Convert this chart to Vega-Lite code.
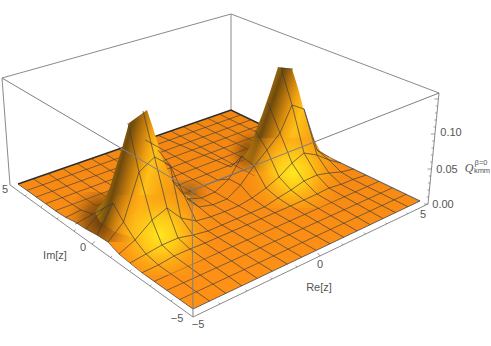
{"$schema":"https://vega.github.io/schema/vega-lite/v6.json","width":491,"height":346,"padding":0,"autosize":"none","background":"white","config":{"view":{"stroke":null}},
"datasets":{
"box":[{"id":"a","u":10,"v":185},{"id":"a","u":2,"v":78},{"id":"a","u":231,"v":14},{"id":"a","u":439,"v":93},{"id":"a","u":428,"v":204},{"id":"b","u":231,"v":14},{"id":"b","u":231,"v":110},{"id":"c","u":10,"v":185},{"id":"c","u":193,"v":317},{"id":"c","u":428,"v":204}],
"surface":[{"u":193,"v":309},{"u":420,"v":201},{"u":231,"v":110},{"u":18,"v":184},{"u":45.6,"v":203.7},{"u":55.3,"v":210.7},{"u":65,"v":217},{"u":75,"v":222},{"u":86,"v":229},{"u":97,"v":235},{"u":108,"v":242},{"u":119,"v":254},{"u":130,"v":263},{"u":142,"v":272.7}],
"edge":[{"id":"e1","u":18,"v":184},{"id":"e1","u":231,"v":110},{"id":"e1","u":320,"v":153}],
"edgeright":[{"u":320,"v":153},{"u":420,"v":201}],
"edgefront":[{"u":420,"v":201},{"u":193,"v":309},{"u":142,"v":272.7},{"u":130,"v":263},{"u":119,"v":254},{"u":108,"v":242},{"u":97,"v":235},{"u":86,"v":229},{"u":75,"v":222},{"u":65,"v":217},{"u":55.3,"v":210.7},{"u":45.6,"v":203.7},{"u":18,"v":184}],
"flat":[{"id":"i2","u":48.1,"v":173.5},{"id":"i2","u":96.1,"v":205.9},{"id":"i3","u":62.7,"v":168.5},{"id":"i3","u":111.2,"v":200.3},{"id":"i4","u":77.1,"v":163.5},{"id":"i4","u":136.5,"v":201.4},{"id":"i5","u":91.2,"v":158.6},{"id":"i5","u":151,"v":195.7},{"id":"i6","u":105,"v":153.8},{"id":"i6","u":176,"v":197},{"id":"i7","u":118.6,"v":149.1},{"id":"i7","u":301.9,"v":257.2},{"id":"i8","u":132,"v":144.4},{"id":"i8","u":316.2,"v":250.4},{"id":"i11","u":170.7,"v":130.9},{"id":"i11","u":255,"v":176},{"id":"i12","u":183.2,"v":126.6},{"id":"i12","u":268,"v":171},{"id":"i13","u":195.4,"v":122.4},{"id":"i13","u":280.7,"v":166},{"id":"i14","u":207.5,"v":118.2},{"id":"i14","u":293,"v":161},{"id":"i15","u":219.3,"v":114.1},{"id":"i15","u":305,"v":156},
{"id":"j1","u":179.7,"v":299.5},{"id":"j1","u":406,"v":194.3},{"id":"j2","u":166.8,"v":290.3},{"id":"j2","u":392.4,"v":187.8},{"id":"j3","u":154.3,"v":281.3},{"id":"j3","u":379.1,"v":181.3},{"id":"j9","u":305.5,"v":145.9},{"id":"j9","u":132,"v":214},{"id":"j10","u":294.2,"v":140.4},{"id":"j10","u":121.6,"v":207},{"id":"j11","u":283.1,"v":135.1},{"id":"j11","u":96,"v":206},{"id":"j12","u":272.3,"v":129.9},{"id":"j12","u":55.3,"v":210.7},{"id":"j13","u":261.6,"v":124.7},{"id":"j13","u":45.6,"v":203.7},{"id":"j14","u":251.2,"v":119.7},{"id":"j14","u":36.2,"v":197},{"id":"j15","u":241,"v":114.8},{"id":"j15","u":27,"v":190.4}],
"shadeA":[{"u":62,"v":192},{"u":132,"v":192},{"u":132,"v":242},{"u":108,"v":242},{"u":97,"v":235},{"u":86,"v":229},{"u":75,"v":222},{"u":65,"v":217},{"u":62,"v":215}],
"shadeB":[{"u":172,"v":180},{"u":216,"v":180},{"u":216,"v":206},{"u":172,"v":206}],
"shadeC":[{"u":224,"v":130},{"u":272,"v":130},{"u":272,"v":172},{"u":224,"v":172}],
"body1":[{"u":129,"v":123},{"u":147,"v":110},{"u":153,"v":128},{"u":162,"v":157},{"u":172,"v":180},{"u":180,"v":192},{"u":190,"v":197},{"u":185,"v":215},{"u":160,"v":232},{"u":135,"v":238},{"u":115,"v":232},{"u":100,"v":222},{"u":95,"v":212},{"u":103,"v":202},{"u":110,"v":187},{"u":115,"v":170},{"u":122,"v":148}],
"body2":[{"u":278,"v":67},{"u":292,"v":69},{"u":298,"v":88},{"u":303,"v":107},{"u":313,"v":137},{"u":320,"v":151},{"u":333,"v":160},{"u":320,"v":172},{"u":295,"v":178},{"u":270,"v":175},{"u":252,"v":165},{"u":243,"v":158},{"u":250,"v":147},{"u":256,"v":130},{"u":262,"v":115},{"u":270,"v":92}],
"glow1":[{"u":100,"v":195},{"u":220,"v":195},{"u":220,"v":275},{"u":145,"v":275},{"u":142,"v":272.7},{"u":130,"v":263},{"u":119,"v":254},{"u":108,"v":242},{"u":100,"v":237}],
"glow2":[{"u":238,"v":138},{"u":311,"v":138},{"u":320,"v":151},{"u":333,"v":159},{"u":348,"v":167},{"u":348,"v":208},{"u":238,"v":208}],
"trace":[
{"id":"i1","u":33.2,"v":178.7},{"id":"i1","u":81,"v":210},{"id":"i1","u":93,"v":214},{"id":"i1","u":104,"v":208},{"id":"i1","u":113,"v":203},{"id":"i1","u":123.5,"v":222},{"id":"i1","u":135,"v":240},{"id":"i1","u":146,"v":254},{"id":"i1","u":158.4,"v":265},{"id":"i1","u":209.6,"v":301.1},
{"id":"i2f","u":128,"v":123},{"id":"i2f","u":139,"v":172},{"id":"i2f","u":152,"v":220},{"id":"i2f","u":162,"v":245},{"id":"i2f","u":174,"v":256},{"id":"i2f","u":225.9,"v":293.4},
{"id":"i3f","u":143,"v":111},{"id":"i3f","u":154.5,"v":157},{"id":"i3f","u":167,"v":208},{"id":"i3f","u":178,"v":238},{"id":"i3f","u":190,"v":249},{"id":"i3f","u":241.8,"v":285.8},
{"id":"i4f","u":158,"v":150},{"id":"i4f","u":170,"v":165},{"id":"i4f","u":181,"v":218},{"id":"i4f","u":193,"v":235},{"id":"i4f","u":205,"v":243},{"id":"i4f","u":257.3,"v":278.4},
{"id":"i5f","u":172,"v":180},{"id":"i5f","u":184,"v":195},{"id":"i5f","u":196,"v":221},{"id":"i5f","u":208,"v":231},{"id":"i5f","u":220,"v":238.7},{"id":"i5f","u":272.5,"v":271.2},
{"id":"i6f","u":187,"v":199},{"id":"i6f","u":199,"v":207},{"id":"i6f","u":210,"v":216},{"id":"i6f","u":222,"v":225},{"id":"i6f","u":287.4,"v":264.1},
{"id":"i9","u":145.1,"v":139.8},{"id":"i9","u":217.5,"v":180},{"id":"i9","u":229,"v":179},{"id":"i9","u":240.5,"v":185},{"id":"i9","u":252,"v":198},{"id":"i9","u":264.5,"v":206.9},{"id":"i9","u":330.1,"v":243.8},
{"id":"i10","u":158,"v":135.3},{"id":"i10","u":231,"v":167},{"id":"i10","u":242,"v":156},{"id":"i10","u":254,"v":166},{"id":"i10","u":266,"v":188},{"id":"i10","u":278,"v":198},{"id":"i10","u":290.5,"v":206},{"id":"i10","u":343.7,"v":237.3},
{"id":"i11f","u":255,"v":130},{"id":"i11f","u":267,"v":150},{"id":"i11f","u":279,"v":177},{"id":"i11f","u":291,"v":190},{"id":"i11f","u":304,"v":200},{"id":"i11f","u":357.1,"v":230.9},
{"id":"i12f","u":268,"v":103},{"id":"i12f","u":280,"v":133},{"id":"i12f","u":292,"v":163},{"id":"i12f","u":304,"v":181},{"id":"i12f","u":317,"v":194},{"id":"i12f","u":370.2,"v":224.7},
{"id":"i13f","u":281,"v":68},{"id":"i13f","u":292,"v":105},{"id":"i13f","u":304,"v":153},{"id":"i13f","u":317,"v":175},{"id":"i13f","u":329,"v":188},{"id":"i13f","u":383,"v":218.6},
{"id":"i14f","u":304,"v":109},{"id":"i14f","u":317,"v":155},{"id":"i14f","u":329,"v":173},{"id":"i14f","u":342,"v":185},{"id":"i14f","u":395.6,"v":212.6},
{"id":"i15f","u":317,"v":150},{"id":"i15f","u":329,"v":160},{"id":"i15f","u":341,"v":172},{"id":"i15f","u":354,"v":180},{"id":"i15f","u":407.9,"v":206.7},
{"id":"j4","u":366.2,"v":175.1},{"id":"j4","u":354,"v":179},{"id":"j4","u":342,"v":184},{"id":"j4","u":329,"v":188},{"id":"j4","u":317,"v":194},{"id":"j4","u":304,"v":200},{"id":"j4","u":290.5,"v":206},{"id":"j4","u":205,"v":243},{"id":"j4","u":190,"v":249},{"id":"j4","u":174,"v":256},{"id":"j4","u":158.4,"v":265},{"id":"j4","u":142.1,"v":272.7},
{"id":"j5","u":353.5,"v":169},{"id":"j5","u":341,"v":172},{"id":"j5","u":329,"v":173},{"id":"j5","u":317,"v":175},{"id":"j5","u":304,"v":181},{"id":"j5","u":291,"v":190},{"id":"j5","u":278,"v":198},{"id":"j5","u":264.5,"v":206.9},{"id":"j5","u":222,"v":225},{"id":"j5","u":208,"v":231},{"id":"j5","u":193,"v":235},{"id":"j5","u":178,"v":238},{"id":"j5","u":162,"v":245},{"id":"j5","u":146,"v":254},{"id":"j5","u":130,"v":263},
{"id":"j6","u":341,"v":163},{"id":"j6","u":329,"v":160},{"id":"j6","u":317,"v":155},{"id":"j6","u":304,"v":153},{"id":"j6","u":292,"v":163},{"id":"j6","u":279,"v":177},{"id":"j6","u":266,"v":188},{"id":"j6","u":252,"v":198},{"id":"j6","u":238.6,"v":205.8},{"id":"j6","u":224.7,"v":211.6},{"id":"j6","u":210,"v":217},{"id":"j6","u":196,"v":221},{"id":"j6","u":181,"v":218},{"id":"j6","u":167,"v":208},{"id":"j6","u":152,"v":220},{"id":"j6","u":135,"v":240},{"id":"j6","u":119,"v":254},
{"id":"j7","u":329,"v":157},{"id":"j7","u":317,"v":150},{"id":"j7","u":304,"v":109},{"id":"j7","u":292,"v":105},{"id":"j7","u":280,"v":133},{"id":"j7","u":267,"v":150},{"id":"j7","u":254,"v":166},{"id":"j7","u":240.5,"v":185},{"id":"j7","u":227,"v":199},{"id":"j7","u":213,"v":204.7},{"id":"j7","u":199,"v":207},{"id":"j7","u":184,"v":195},{"id":"j7","u":170,"v":165},{"id":"j7","u":154.5,"v":157},{"id":"j7","u":139,"v":172},{"id":"j7","u":123.5,"v":222},{"id":"j7","u":108,"v":242},
{"id":"j8a","u":242,"v":156},{"id":"j8a","u":229,"v":179},{"id":"j8a","u":215,"v":192},{"id":"j8a","u":201.5,"v":197.9},{"id":"j8a","u":187,"v":199},
{"id":"j8b","u":113,"v":203},{"id":"j8b","u":97,"v":235},
{"id":"j8c","u":281,"v":68},{"id":"j8c","u":293,"v":69},
{"id":"j9b","u":104,"v":208},{"id":"j9b","u":85.8,"v":229},{"id":"j10b","u":93,"v":214},{"id":"j10b","u":75.4,"v":224},{"id":"j11b","u":81,"v":210},{"id":"j11b","u":65.2,"v":217.7}],
"front":[{"id":"a","u":2,"v":78},{"id":"a","u":192,"v":190},{"id":"a","u":439,"v":93},{"id":"b","u":192,"v":190},{"id":"b","u":193,"v":317}],
"ticks":[{"id":"z0","u":428,"v":204},{"id":"z0","u":424,"v":204},{"id":"z1","u":428.7,"v":197},{"id":"z1","u":426.7,"v":197},{"id":"z2","u":429.4,"v":190},{"id":"z2","u":427.4,"v":190},{"id":"z3","u":430.1,"v":183},{"id":"z3","u":428.1,"v":183},{"id":"z4","u":430.8,"v":176},{"id":"z4","u":428.8,"v":176},{"id":"z5","u":431.5,"v":169},{"id":"z5","u":427.5,"v":169},{"id":"z6","u":432.2,"v":162},{"id":"z6","u":430.2,"v":162},{"id":"z7","u":432.9,"v":155},{"id":"z7","u":430.9,"v":155},{"id":"z8","u":433.5,"v":148},{"id":"z8","u":431.5,"v":148},{"id":"z9","u":434.2,"v":141},{"id":"z9","u":432.2,"v":141},{"id":"z10","u":434.9,"v":134},{"id":"z10","u":430.9,"v":134},{"id":"z11","u":435.6,"v":127},{"id":"z11","u":433.6,"v":127},{"id":"z12","u":436.3,"v":120},{"id":"z12","u":434.3,"v":120},{"id":"z13","u":437,"v":113},{"id":"z13","u":435,"v":113},{"id":"z14","u":437.7,"v":106},{"id":"z14","u":435.7,"v":106},{"id":"z15","u":438.4,"v":99},{"id":"z15","u":434.4,"v":99},
{"id":"r1","u":220,"v":304},{"id":"r1","u":218.5,"v":302.5},{"id":"r2","u":247,"v":291},{"id":"r2","u":245.5,"v":289.5},{"id":"r3","u":272,"v":279},{"id":"r3","u":270.5,"v":277.5},{"id":"r4","u":297,"v":267},{"id":"r4","u":295.5,"v":265.5},{"id":"r5","u":320,"v":256},{"id":"r5","u":317.5,"v":253},{"id":"r6","u":343,"v":245},{"id":"r6","u":341.5,"v":243.5},{"id":"r7","u":365.5,"v":234},{"id":"r7","u":364,"v":232.5},{"id":"r8","u":387,"v":224},{"id":"r8","u":385.5,"v":222.5},{"id":"r9","u":408,"v":214},{"id":"r9","u":406.5,"v":212.5},
{"id":"m1","u":171,"v":301},{"id":"m1","u":172.5,"v":299.5},{"id":"m2","u":150,"v":286},{"id":"m2","u":151.5,"v":284.5},{"id":"m3","u":130,"v":271},{"id":"m3","u":131.5,"v":269.5},{"id":"m4","u":110.5,"v":257.5},{"id":"m4","u":112,"v":256},{"id":"m5","u":92,"v":244},{"id":"m5","u":95,"v":241.5},{"id":"m6","u":74,"v":231},{"id":"m6","u":75.5,"v":229.5},{"id":"m7","u":57,"v":219},{"id":"m7","u":58.5,"v":217.5},{"id":"m8","u":41,"v":207},{"id":"m8","u":42.5,"v":205.5},{"id":"m9","u":25,"v":196},{"id":"m9","u":26.5,"v":194.5}],
"labels":[{"t":"5","u":5,"v":190},{"t":"0","u":83,"v":248},{"t":"−5","u":177,"v":319},{"t":"Im[z]","u":55,"v":256},{"t":"−5","u":198,"v":325},{"t":"0","u":320,"v":265},{"t":"5","u":423,"v":215},{"t":"Re[z]","u":319,"v":288},{"t":"0.00","u":443,"v":205},{"t":"0.05","u":447,"v":170},{"t":"0.10","u":451,"v":133}],
"qlabel":[{"t":"Q","u":469,"v":168}],
"sup":[{"t":"β=0","u":481,"v":163},{"t":"kmm","u":482,"v":171}]
},
"encoding":{"x":{"field":"u","type":"quantitative","axis":null,"scale":{"domain":[0,491],"nice":false,"zero":false}},"y":{"field":"v","type":"quantitative","axis":null,"scale":{"domain":[346,0],"nice":false,"zero":false}}},
"layer":[
{"data":{"name":"box"},"mark":{"type":"line","stroke":"#8a8a8a","strokeWidth":1},"encoding":{"detail":{"field":"id"},"order":{"value":null}}},
{"data":{"name":"surface"},"mark":{"type":"line","strokeWidth":0,"stroke":"transparent","fill":{"gradient":"linear","x1":0,"y1":0,"x2":0,"y2":1,"stops":[{"offset":0,"color":"#f08510"},{"offset":0.5,"color":"#f98c14"},{"offset":1,"color":"#ff9216"}]}},"encoding":{"order":{"value":null}}},
{"data":{"name":"edge"},"mark":{"type":"line","stroke":"#2b2b2b","strokeWidth":1.4},"encoding":{"detail":{"field":"id"},"order":{"value":null}}},
{"data":{"name":"edgeright"},"mark":{"type":"line","stroke":"#666666","strokeWidth":1.1},"encoding":{"order":{"value":null}}},
{"data":{"name":"edgefront"},"mark":{"type":"line","stroke":"#444444","strokeWidth":0.8},"encoding":{"order":{"value":null}}},
{"data":{"name":"flat"},"mark":{"type":"line","stroke":"#3c3c3c","strokeOpacity":0.8,"strokeWidth":0.8},"encoding":{"detail":{"field":"id"},"order":{"value":null}}},
{"data":{"name":"shadeA"},"mark":{"type":"line","strokeWidth":0,"stroke":"transparent","fill":{"gradient":"radial","x1":0.6,"y1":0.55,"r1":0,"x2":0.6,"y2":0.55,"r2":0.55,"stops":[{"offset":0,"color":"rgba(80,50,10,0.95)"},{"offset":0.5,"color":"rgba(110,65,10,0.6)"},{"offset":1,"color":"rgba(200,110,20,0)"}]}},"encoding":{"order":{"value":null}}},
{"data":{"name":"shadeB"},"mark":{"type":"line","strokeWidth":0,"stroke":"transparent","fill":{"gradient":"radial","x1":0.4,"y1":0.5,"r1":0,"x2":0.4,"y2":0.5,"r2":0.5,"stops":[{"offset":0,"color":"rgba(120,75,15,0.7)"},{"offset":1,"color":"rgba(200,110,20,0)"}]}},"encoding":{"order":{"value":null}}},
{"data":{"name":"shadeC"},"mark":{"type":"line","strokeWidth":0,"stroke":"transparent","fill":{"gradient":"radial","x1":0.6,"y1":0.55,"r1":0,"x2":0.6,"y2":0.55,"r2":0.55,"stops":[{"offset":0,"color":"rgba(85,55,10,0.9)"},{"offset":0.5,"color":"rgba(110,65,10,0.5)"},{"offset":1,"color":"rgba(200,110,20,0)"}]}},"encoding":{"order":{"value":null}}},
{"data":{"name":"body1"},"mark":{"type":"line","strokeWidth":0,"stroke":"transparent","fill":{"gradient":"linear","x1":0,"y1":0.3,"x2":1,"y2":0.67,"stops":[{"offset":0.2,"color":"#a5700f"},{"offset":0.28,"color":"#6f4a0c"},{"offset":0.38,"color":"#b8750d"},{"offset":0.48,"color":"#f0a010"},{"offset":0.56,"color":"#ffc018"},{"offset":0.7,"color":"#f9a814"},{"offset":0.9,"color":"#f09212"}]}},"encoding":{"order":{"value":null}}},
{"data":{"name":"body2"},"mark":{"type":"line","strokeWidth":0,"stroke":"transparent","fill":{"gradient":"linear","x1":0,"y1":0.3,"x2":1,"y2":0.73,"stops":[{"offset":0.2,"color":"#a5700f"},{"offset":0.28,"color":"#6f4a0c"},{"offset":0.38,"color":"#b8750d"},{"offset":0.48,"color":"#f0a010"},{"offset":0.58,"color":"#ffc018"},{"offset":0.72,"color":"#f9a814"},{"offset":0.9,"color":"#f09212"}]}},"encoding":{"order":{"value":null}}},
{"data":{"name":"glow1"},"mark":{"type":"line","strokeWidth":0,"stroke":"transparent","fill":{"gradient":"radial","x1":0.5,"y1":0.5,"r1":0,"x2":0.5,"y2":0.5,"r2":0.5,"stops":[{"offset":0,"color":"rgba(255,232,30,1)"},{"offset":0.3,"color":"rgba(255,205,25,0.9)"},{"offset":0.62,"color":"rgba(252,165,20,0.6)"},{"offset":1,"color":"rgba(250,140,20,0)"}]}},"encoding":{"order":{"value":null}}},
{"data":{"name":"glow2"},"mark":{"type":"line","strokeWidth":0,"stroke":"transparent","fill":{"gradient":"radial","x1":0.5,"y1":0.5,"r1":0,"x2":0.5,"y2":0.5,"r2":0.5,"stops":[{"offset":0,"color":"rgba(255,232,30,1)"},{"offset":0.3,"color":"rgba(255,205,25,0.9)"},{"offset":0.62,"color":"rgba(252,165,20,0.6)"},{"offset":1,"color":"rgba(250,140,20,0)"}]}},"encoding":{"order":{"value":null}}},
{"data":{"name":"trace"},"mark":{"type":"line","stroke":"#3c3c3c","strokeOpacity":0.85,"strokeWidth":0.8},"encoding":{"detail":{"field":"id"},"order":{"value":null}}},
{"data":{"name":"front"},"mark":{"type":"line","stroke":"#808080","strokeWidth":1},"encoding":{"detail":{"field":"id"},"order":{"value":null}}},
{"data":{"name":"ticks"},"mark":{"type":"line","stroke":"#777777","strokeWidth":0.7},"encoding":{"detail":{"field":"id"},"order":{"value":null}}},
{"data":{"name":"labels"},"mark":{"type":"text","font":"Liberation Sans","fontSize":11,"fill":"#555555","align":"center","baseline":"middle"},"encoding":{"text":{"field":"t"}}},
{"data":{"name":"qlabel"},"mark":{"type":"text","font":"Liberation Serif","fontStyle":"italic","fontSize":12,"fill":"#555555","align":"center","baseline":"middle"},"encoding":{"text":{"field":"t"}}},
{"data":{"name":"sup"},"mark":{"type":"text","font":"Liberation Sans","fontSize":7.5,"fill":"#555555","align":"center","baseline":"middle"},"encoding":{"text":{"field":"t"}}}
]}
